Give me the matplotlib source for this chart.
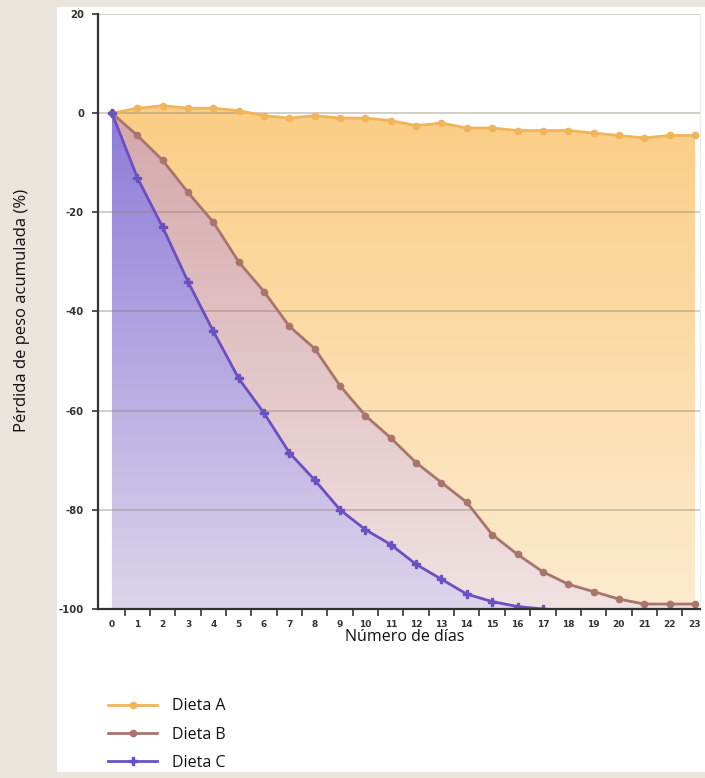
import numpy as np
import matplotlib
matplotlib.use("Agg")
import matplotlib.pyplot as plt
from matplotlib.colors import LinearSegmentedColormap
from matplotlib.patches import Rectangle

# ---- data -------------------------------------------------------------
days = list(range(24))
day_labels = [str(d) for d in days]

dieta_a = [0, 1, 1.5, 1, 1, 0.5, -0.5, -1, -0.5, -1, -1, -1.5,
           -2.5, -2, -3, -3, -3.5, -3.5, -3.5, -4, -4.5, -5, -4.5, -4.5]
dieta_b = [0, -4.5, -9.5, -16, -22, -30, -36, -43, -47.5, -55, -61, -65.5,
           -70.5, -74.5, -78.5, -85, -89, -92.5, -95, -96.5, -98, -99, -99, -99]
dieta_c = [0, -13, -23, -34, -44, -53.5, -60.5, -68.5, -74, -80, -84, -87,
           -91, -94, -97, -98.5, -99.5, -100]

series_names = ["Dieta A", "Dieta B", "Dieta C"]
y_ticks = [20, 0, -20, -40, -60, -80, -100]

x_title = "Número de días"
y_title = "Pérdida de peso acumulada (%)"

# ---- styling ----------------------------------------------------------
plt.rcParams["axes.unicode_minus"] = False
FONT = ["Open Sans", "DejaVu Sans"]

BG = "#e9e5dc"
line_colors = ["#f0b45a", "#a8746c", "#6a50c0"]
fill_top = ["#fbcd84", "#cda0b2", "#8c7ad8"]
fill_bottom = ["#fdebcf", "#efe1e6", "#dcd5eb"]
markers = ["o", "o", "P"]

fig = plt.figure(figsize=(7.05, 7.78), dpi=100, facecolor=BG)

# white panel behind the chart
fig.add_artist(Rectangle((57 / 705, 1 - 772 / 778), (705 - 57) / 705,
                         (772 - 7) / 778, transform=fig.transFigure,
                         facecolor="white", edgecolor="none", zorder=0))

ax = fig.add_axes([98 / 705, 1 - 609 / 778, (700 - 98) / 705, (609 - 14) / 778])
ax.set_facecolor("none")
ax.set_zorder(1)

XMIN, XMAX = -0.552, 23.2
YMIN, YMAX = -100, 20
ax.set_xlim(XMIN, XMAX)
ax.set_ylim(YMIN, YMAX)


def gradient_fill(x, y, top, bottom, z, alpha=1.0):
    poly = ax.fill_between(x, y, YMIN, facecolor="none", edgecolor="none")
    cmap = LinearSegmentedColormap.from_list("g", [bottom, top])
    grad = np.linspace(0, 1, 256).reshape(-1, 1)
    im = ax.imshow(grad, cmap=cmap, aspect="auto", origin="lower",
                   extent=[XMIN, XMAX, YMIN, 2], zorder=z, alpha=alpha,
                   interpolation="bilinear")
    im.set_clip_path(poly.get_paths()[0], transform=ax.transData)
    poly.remove()


all_series = [dieta_a, dieta_b, dieta_c]
for i, vals in enumerate(all_series):
    xs = days[:len(vals)]
    gradient_fill(xs, vals, fill_top[i], fill_bottom[i], z=1 + i,
                  alpha=0.85 if i == 1 else 1.0)

# horizontal gridlines
for yv in y_ticks[:-1]:
    ax.axhline(yv, color="#8a8070" if yv != 20 else "#c8c8c8",
               alpha=0.45 if yv != 20 else 1.0, lw=1.2, zorder=5)

handles = []
for i, vals in enumerate(all_series):
    xs = days[:len(vals)]
    h, = ax.plot(xs, vals, color=line_colors[i], lw=2.0, marker=markers[i],
                 ms=4.5 if markers[i] == "o" else 6, mec=line_colors[i],
                 mfc=line_colors[i], zorder=6 + i, label=series_names[i])
    handles.append(h)

# axes
ax.spines["top"].set_visible(False)
ax.spines["right"].set_color("#ececec")
for s in ["left", "bottom"]:
    ax.spines[s].set_color("#333333")
    ax.spines[s].set_linewidth(1.6)
    ax.spines[s].set_zorder(10)

ax.set_yticks(y_ticks)
ax.set_yticklabels([str(v) for v in y_ticks], fontsize=7.3,
                   fontweight="bold", color="#333333")
ax.tick_params(axis="y", direction="out", length=4, width=1.2,
               color="#333333", pad=6)

ax.set_xticks(days)
ax.set_xticklabels(day_labels, fontsize=6.5, fontweight="bold",
                   color="#333333")
ax.set_xticks([d + 0.5 for d in days[:-1]], minor=True)
ax.tick_params(axis="x", which="major", length=0, pad=8)
ax.tick_params(axis="x", which="minor", direction="out", length=5,
               width=1.2, color="#333333")

fig.text(405 / 705, 1 - 637 / 778, x_title, ha="center", va="center",
         fontsize=11.5, family=FONT, color="#111111")
fig.text(22 / 705, 1 - 310 / 778, y_title, ha="center", va="center",
         rotation=90, fontsize=12, family=FONT, color="#111111")

leg = fig.legend(handles=handles, labels=series_names,
                 loc="upper left", bbox_to_anchor=(94 / 705, 1 - 684 / 778),
                 frameon=False, handlelength=3.05, handletextpad=0.95,
                 labelspacing=0.76, prop={"family": FONT, "size": 11.5})
for t in leg.get_texts():
    t.set_color("#111111")

fig.savefig("out.png", dpi=100, facecolor=BG)
